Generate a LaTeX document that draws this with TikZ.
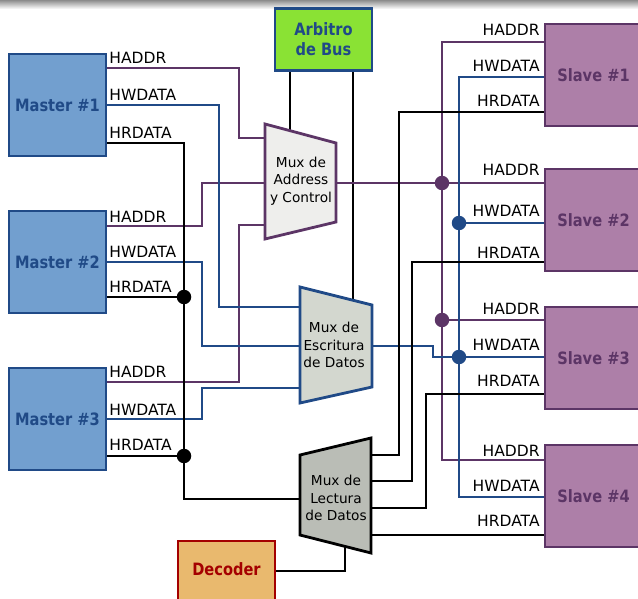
\documentclass[tikz,border=0pt]{standalone}
\usepackage{fontspec}
\setmainfont{DejaVu Sans}
\newfontfamily\boxfont{DejaVu Sans}[FakeStretch=0.86]
\definecolor{skyblue}{HTML}{729FCF}
\definecolor{darkblue}{HTML}{204A87}
\definecolor{plum}{HTML}{AD7FA8}
\definecolor{darkplum}{HTML}{5C3566}
\definecolor{chameleon}{HTML}{8AE234}
\definecolor{chocolate}{HTML}{E9B96E}
\definecolor{scarlet}{HTML}{A40000}
\definecolor{alu1}{HTML}{EEEEEC}
\definecolor{alu2}{HTML}{D3D7CF}
\definecolor{alu3}{HTML}{BABDB6}
\begin{document}
\begin{tikzpicture}[x=1pt,y=-1pt,line width=2.8pt,
    box/.style={rectangle,minimum width=97pt,minimum height=102pt,inner sep=0pt,
      font=\boxfont\fontsize{17}{20}\selectfont\bfseries},
    master/.style={box,draw=darkblue,fill=skyblue,text=darkblue},
    slave/.style={box,draw=darkplum,fill=plum,text=darkplum},
    sig/.style={font=\fontsize{15.5}{18}\selectfont,inner sep=0pt},
    muxtext/.style={align=center,inner sep=0pt,font=\fontsize{13.7}{17.5}\selectfont},
    addr/.style={draw=darkplum},
    wdata/.style={draw=darkblue},
    rdata/.style={draw=black}]
  \useasboundingbox (0,0) rectangle (638,599);
  \shade[top color=black!45,bottom color=white] (0,0) rectangle (638,9);

  % wires (drawn first, under the boxes)
  % master side
  \draw[addr] (100,68) -| (239,138) -- (270,138);
  \draw[addr] (100,226) -| (202,183) -- (270,183);
  \draw[addr] (100,382) -| (239,225) -- (270,225);
  \draw[wdata] (100,105) -| (219,307) -- (305,307);
  \draw[wdata] (100,262) -| (202,346) -- (305,346);
  \draw[wdata] (100,419) -| (202,388) -- (305,388);
  \draw[rdata] (100,143) -| (184,499) -- (305,499);
  \draw[rdata] (100,297) -- (184,297);
  \draw[rdata] (100,456) -- (184,456);
  \draw[rdata] (290,60) -- (290,140);
  \draw[rdata] (353,60) -- (353,310);
  \draw[rdata] (230,571) -| (345,540);
  % slave side
  \draw[addr] (550,42) -| (442,460) -- (550,460);
  \draw[addr] (330,183) -- (550,183);
  \draw[addr] (442,320) -- (550,320);
  \draw[wdata] (550,77) -| (459,497) -- (550,497);
  \draw[wdata] (459,223) -- (550,223);
  \draw[wdata] (365,346) -| (433,357) -- (550,357);
  \draw[rdata] (550,112) -| (399,455) -- (365,455);
  \draw[rdata] (550,262) -| (412,481) -- (365,481);
  \draw[rdata] (550,394) -| (426,508) -- (365,508);
  \draw[rdata] (550,535) -- (365,535);

  % masters, slaves and the rest
  \node[master] (m1) at (57.5,105) {Master \#1};
  \node[master] (m2) at (57.5,262) {Master \#2};
  \node[master] (m3) at (57.5,419) {Master \#3};
  \node[slave] (s1) at (593.5,75) {Slave \#1};
  \node[slave] (s2) at (593.5,220) {Slave \#2};
  \node[slave] (s3) at (593.5,358) {Slave \#3};
  \node[slave] (s4) at (593.5,496) {Slave \#4};
  \node[box,draw=darkblue,fill=chameleon,text=darkblue,minimum height=62pt,align=center] (arb) at (323.5,39.5) {Arbitro\\de Bus};
  \node[box,draw=scarlet,fill=chocolate,text=scarlet,minimum height=64pt,text depth=8pt] (dec) at (226.5,573) {Decoder};

  % muxes
  \draw[draw=darkplum,fill=alu1] (265,124) -- (336,143) -- (336,222) -- (265,239) -- cycle;
  \node[muxtext] (muxA) at (301,181) {Mux de\\Address\\y Control};
  \draw[draw=darkblue,fill=alu2] (300,287) -- (372,305) -- (372,387) -- (300,403) -- cycle;
  \node[muxtext] (muxE) at (334,345) {Mux de\\Escritura\\de Datos};
  \draw[draw=black,fill=alu3] (300,455) -- (371,438) -- (371,553) -- (300,535) -- cycle;
  \node[muxtext] (muxL) at (336,498) {Mux de\\Lectura\\de Datos};

  % joints
  \fill[black] (184,297) circle (7.25) (184,456) circle (7.25);
  \fill[darkplum] (442,183) circle (7.25) (442,320) circle (7.25);
  \fill[darkblue] (459,223) circle (7.25) (459,357) circle (7.25);

  % signal names
  \node[sig,anchor=base west] (m1addr) at (108,64) {HADDR};
  \node[sig,anchor=base west] (m1wdata) at (108,100.7) {HWDATA};
  \node[sig,anchor=base west] (m1rdata) at (108,138.3) {HRDATA};
  \node[sig,anchor=base west] (m2addr) at (108,222.5) {HADDR};
  \node[sig,anchor=base west] (m2wdata) at (108,257.3) {HWDATA};
  \node[sig,anchor=base west] (m2rdata) at (108,292.3) {HRDATA};
  \node[sig,anchor=base west] (m3addr) at (108,377.3) {HADDR};
  \node[sig,anchor=base west] (m3wdata) at (108,415.7) {HWDATA};
  \node[sig,anchor=base west] (m3rdata) at (108,450) {HRDATA};
  \node[sig,anchor=base east] (s1addr) at (541,36) {HADDR};
  \node[sig,anchor=base east] (s1wdata) at (541,71.7) {HWDATA};
  \node[sig,anchor=base east] (s1rdata) at (541,106.7) {HRDATA};
  \node[sig,anchor=base east] (s2addr) at (541,176) {HADDR};
  \node[sig,anchor=base east] (s2wdata) at (541,216.7) {HWDATA};
  \node[sig,anchor=base east] (s2rdata) at (541,258.3) {HRDATA};
  \node[sig,anchor=base east] (s3addr) at (541,314.3) {HADDR};
  \node[sig,anchor=base east] (s3wdata) at (541,350) {HWDATA};
  \node[sig,anchor=base east] (s3rdata) at (541,386.7) {HRDATA};
  \node[sig,anchor=base east] (s4addr) at (541,456) {HADDR};
  \node[sig,anchor=base east] (s4wdata) at (541,491.7) {HWDATA};
  \node[sig,anchor=base east] (s4rdata) at (541,526.7) {HRDATA};
\end{tikzpicture}
\end{document}
